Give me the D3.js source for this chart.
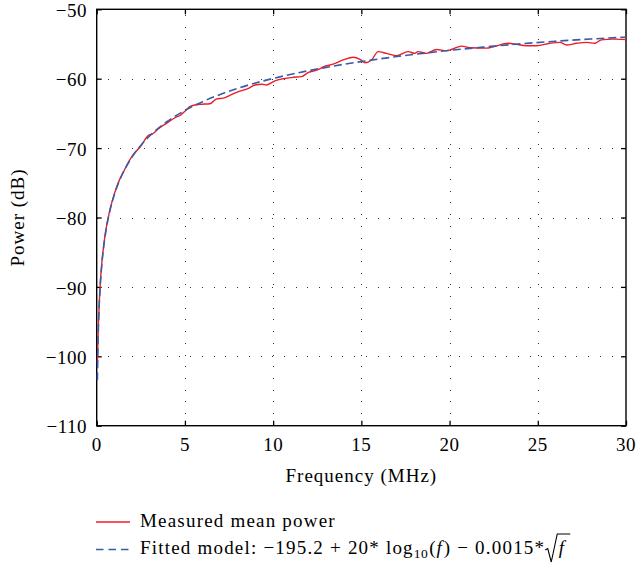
<!DOCTYPE html>
<html>
<head>
<meta charset="utf-8">
<script src="https://cdn.jsdelivr.net/npm/d3@7"></script>
<style>
  html, body { margin: 0; padding: 0; background: #fff; }
  svg { display: block; }
  text { font-family: "Liberation Serif", "Times New Roman", serif; fill: #000; }
</style>
</head>
<body>
<svg id="chart" width="637" height="569"></svg>
<script>
// ---- data ----
const xTicks = [0, 5, 10, 15, 20, 25, 30];
const yTicks = [-110, -100, -90, -80, -70, -60, -50];

const measuredFreq = [0.04, 0.06, 0.08, 0.1, 0.15, 0.2, 0.3, 0.4, 0.5, 0.75, 1, 1.32, 1.5, 2, 2.5, 2.92, 3.2, 3.5, 3.97, 4.53, 4.72, 5.0, 5.3, 5.85, 6.42, 6.8, 7.17, 7.55, 8.0, 8.6, 8.97, 9.35, 9.63, 10.1, 10.57, 11.14, 11.6, 12.0, 12.55, 12.84, 13.4, 13.97, 14.54, 14.92, 15.2, 15.58, 15.95, 16.43, 17.0, 17.65, 18.03, 18.2, 18.7, 19.26, 19.83, 20.1, 20.68, 21.15, 22.1, 22.47, 23.32, 23.8, 24.36, 24.93, 25.68, 26.25, 26.63, 27.2, 27.76, 28.23, 28.6, 29.27, 30];
const measuredPower = [-101.0, -98.8, -96.8, -95.2, -92.0, -89.6, -86.3, -84.0, -82.1, -78.9, -76.6, -74.4, -73.5, -71.2, -69.7, -68.2, -67.9, -67.2, -66.4, -65.5, -65.3, -64.7, -64.0, -63.7, -63.6, -62.9, -62.8, -62.4, -61.9, -61.4, -60.9, -60.8, -60.9, -60.3, -60.0, -59.8, -59.7, -59.1, -58.7, -58.3, -57.9, -57.3, -56.9, -57.2, -57.7, -57.3, -56.1, -56.35, -56.7, -56.1, -56.35, -56.1, -56.35, -55.8, -55.95, -55.8, -55.3, -55.55, -55.6, -55.4, -54.9, -55.05, -55.25, -55.25, -54.9, -54.76, -55.15, -54.9, -54.76, -54.9, -54.4, -54.3, -54.35];

const fitFreq = [0.04, 0.06, 0.08, 0.1, 0.15, 0.2, 0.3, 0.4, 0.5, 0.75, 1, 1.5, 2, 2.5, 3, 4, 5, 6, 7, 8, 9, 10, 12, 14, 16, 18, 20, 22, 24, 26, 28, 30];
const fitPower = [-103.46, -100.0, -97.56, -95.67, -92.26, -89.85, -86.48, -84.11, -82.28, -79.0, -76.7, -73.52, -71.30, -69.61, -68.26, -66.16, -64.57, -63.31, -62.27, -61.38, -60.62, -59.96, -58.85, -57.93, -57.16, -56.5, -55.92, -55.43, -54.98, -54.6, -54.28, -54.0];

const xLabel = "Frequency (MHz)";
const yLabel = "Power (dB)";
const legendMeasured = "Measured mean power";

// ---- layout ----
const svg = d3.select("#chart");
const L = 96.7, R = 626, T = 9.3, B = 425.7;
const x = d3.scaleLinear().domain([0, 30]).range([L, R]);
const y = d3.scaleLinear().domain([-110, -50]).range([B, T]);
const fontSize = 19;
const red = "#ee1c25", blue = "#3a5ba8";
const fmt = d => (d < 0 ? "\u2212" + Math.abs(d) : String(d));

// grid
const grid = svg.append("g").attr("stroke", "#333").attr("stroke-width", 1)
  .attr("stroke-dasharray", "1,10.7").attr("shape-rendering", "crispEdges");
grid.selectAll(".gx").data(xTicks.filter(d => d > 0 && d < 30)).join("line")
  .attr("x1", d => Math.round(x(d)) + 0.5).attr("x2", d => Math.round(x(d)) + 0.5)
  .attr("y1", B).attr("y2", T);
grid.selectAll(".gy").data(yTicks.filter(d => d > -110 && d < -50)).join("line")
  .attr("y1", d => Math.round(y(d)) + 0.5).attr("y2", d => Math.round(y(d)) + 0.5)
  .attr("x1", L).attr("x2", R);

// axes (ticks inward, mirrored)
const tk = 5;
const axB = svg.append("g").attr("transform", `translate(0,${B})`)
  .call(d3.axisTop(x).tickValues(xTicks).tickSize(tk).tickFormat(""));
const axT = svg.append("g").attr("transform", `translate(0,${T})`)
  .call(d3.axisBottom(x).tickValues(xTicks).tickSize(tk).tickFormat(""));
const axL = svg.append("g").attr("transform", `translate(${L},0)`)
  .call(d3.axisRight(y).tickValues(yTicks).tickSize(tk).tickFormat(""));
const axR = svg.append("g").attr("transform", `translate(${R},0)`)
  .call(d3.axisLeft(y).tickValues(yTicks).tickSize(tk).tickFormat(""));
[axB, axT, axL, axR].forEach(g => {
  g.select(".domain").remove();
  g.selectAll("line").attr("stroke", "#000").attr("stroke-width", 1.3);
});
svg.append("rect").attr("x", L).attr("y", T).attr("width", R - L).attr("height", B - T)
  .attr("fill", "none").attr("stroke", "#000").attr("stroke-width", 1.4);

// tick labels
svg.append("g").selectAll("text").data(xTicks).join("text")
  .attr("x", d => x(d)).attr("y", 451).attr("text-anchor", "middle")
  .attr("font-size", fontSize).attr("letter-spacing", 0.5).text(d => fmt(d));
svg.append("g").selectAll("text").data(yTicks).join("text")
  .attr("x", 87).attr("y", d => y(d) + 7.6).attr("text-anchor", "end")
  .attr("font-size", fontSize).attr("letter-spacing", 0.5).text(d => fmt(d));

// axis labels
svg.append("text").attr("x", (L + R) / 2).attr("y", 482).attr("text-anchor", "middle")
  .attr("font-size", fontSize).attr("letter-spacing", 1).text(xLabel);
svg.append("text").attr("transform", `translate(24,${(T + B) / 2}) rotate(-90)`)
  .attr("text-anchor", "middle").attr("font-size", fontSize).attr("letter-spacing", 1).text(yLabel);

// lines
const plot = svg.append("g");
const measured = measuredFreq.map((f, i) => [f, measuredPower[i]]);
const fitted = fitFreq.map((f, i) => [f, fitPower[i]]);
const line = d3.line().x(d => x(d[0])).y(d => y(d[1])).curve(d3.curveMonotoneX);
plot.append("path").datum(measured).attr("d", line).attr("fill", "none")
  .attr("stroke", red).attr("stroke-width", 1.4);
plot.append("path").datum(fitted).attr("d", line).attr("fill", "none")
  .attr("stroke", blue).attr("stroke-width", 1.6).attr("stroke-dasharray", "8,4");

// legend
const lg = svg.append("g");
const fs = 19, ls = 1.2;
lg.append("line").attr("x1", 96).attr("x2", 130).attr("y1", 522).attr("y2", 522)
  .attr("stroke", red).attr("stroke-width", 1.4);
lg.append("text").attr("x", 140).attr("y", 527).attr("font-size", fs).attr("letter-spacing", ls)
  .text(legendMeasured);
lg.append("line").attr("x1", 96).attr("x2", 129).attr("y1", 549.5).attr("y2", 549.5)
  .attr("stroke", blue).attr("stroke-width", 1.6).attr("stroke-dasharray", "7.5,5");

// formula line: pieces laid out sequentially
const baseY = 554;
let cx = 140;
function piece(str, opts = {}) {
  const t = lg.append("text").attr("x", cx).attr("y", baseY + (opts.dy || 0))
    .attr("font-size", opts.size || fs).attr("letter-spacing", opts.ls !== undefined ? opts.ls : ls)
    .attr("font-style", opts.italic ? "italic" : null).text(str);
  cx += t.node().getComputedTextLength();
  return t;
}
piece("Fitted model: \u2212195.2 + 20* log");
piece("10", { size: 13.5, dy: 4, ls: 0.4 });
cx += 1;
piece("(", { ls: 0 });
cx += 1;
piece("f", { italic: true, ls: 0 });
cx += 2;
piece(") \u2212 0.0015* ");
// radical sign
const rx = cx;
lg.append("path")
  .attr("d", `M${rx},${baseY - 4} L${rx + 2.5},${baseY - 5.5} L${rx + 6},${baseY + 8} L${rx + 12},${baseY - 20} L${rx + 25},${baseY - 20}`)
  .attr("fill", "none").attr("stroke", "#000").attr("stroke-width", 1.1);
cx = rx + 13.5;
piece("f", { italic: true, ls: 0 });
</script>
</body>
</html>
